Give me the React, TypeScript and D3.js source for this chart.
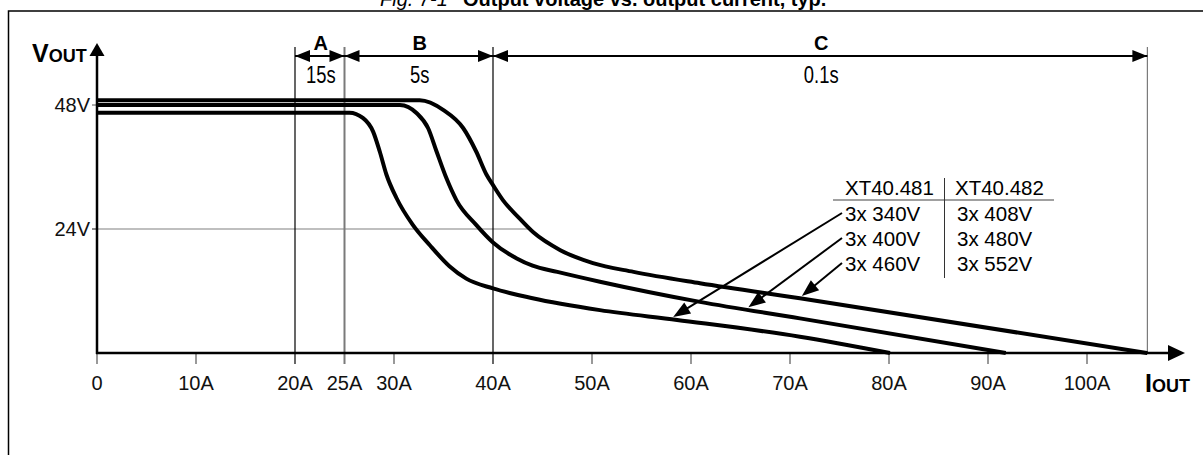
import React from 'react';
import * as d3 from 'd3';

type Pt = [number, number];

const xTicks = [0, 10, 20, 25, 30, 40, 50, 60, 70, 80, 90, 100];
const xTickLabels = ['0', '10A', '20A', '25A', '30A', '40A', '50A', '60A', '70A', '80A', '90A', '100A'];
const yTicks = [48, 24];
const yTickLabels = ['48V', '24V'];

// output current [A], output voltage [V]
const curveTop: Pt[] = [
  [0, 48.9], [32.6, 48.9], [35.0, 47.0], [37.0, 43.5], [38.3, 39.0], [39.35, 34.5], [40.0, 32.5],
  [41.0, 29.6], [42.5, 26.4], [44.1, 23.3], [46.8, 19.9], [50.1, 17.4], [54.2, 15.7], [60.9, 13.5],
  [71.0, 10.6], [106.1, 0],
];
const curveMid: Pt[] = [
  [0, 48.0], [30.6, 48.0], [32.3, 46.4], [33.45, 43.5], [34.3, 39.0], [35.3, 33.8], [36.3, 29.6],
  [38.3, 24.8], [40.0, 21.4], [42.4, 18.3], [44.0, 16.9], [46.5, 15.7], [50.8, 13.8], [60.9, 9.9],
  [71.0, 6.7], [91.8, 0],
];
const curveLow: Pt[] = [
  [0, 46.5], [25.5, 46.5], [26.85, 45.5], [27.9, 42.8], [28.56, 39.0], [29.24, 34.5], [30.25, 30.0],
  [31.9, 24.8], [33.6, 20.9], [35.6, 16.8], [37.3, 14.4], [40.0, 12.5], [44.0, 10.6], [50.8, 8.3],
  [58.6, 6.4], [71.0, 3.15], [80.1, 0],
];

const zoneBounds = [20, 25, 40, 106.1];
const zoneLetters = ['A', 'B', 'C'];
const zoneTimes = ['15s', '5s', '0.1s'];

const tableHeader = ['XT40.481', 'XT40.482'];
const tableCol1 = ['3x 340V', '3x 400V', '3x 460V'];
const tableCol2 = ['3x 408V', '3x 480V', '3x 552V'];
const rowCurves = [curveLow, curveMid, curveTop];
const arrowTargetA = [58.2, 65.8, 71.2];

const FONT = "'Liberation Sans', Arial, Helvetica, sans-serif";

function interp(curve: Pt[], a: number): number {
  for (let i = 1; i < curve.length; i++) {
    if (a <= curve[i][0]) {
      const [x0, y0] = curve[i - 1];
      const [x1, y1] = curve[i];
      return y0 + ((a - x0) / (x1 - x0)) * (y1 - y0);
    }
  }
  return curve[curve.length - 1][1];
}

function arrowHead(tx: number, ty: number, ux: number, uy: number, L: number, W: number): string {
  const nx = -uy, ny = ux;
  const bx = tx - ux * L, by = ty - uy * L;
  return `M${tx},${ty}L${bx + nx * W},${by + ny * W}L${bx - nx * W},${by - ny * W}Z`;
}

export default function App() {
  const W = 1203, H = 455;
  const x = d3.scaleLinear().domain([0, 100]).range([97, 1087]);
  const y = d3.scaleLinear().domain([0, 48]).range([353, 105]);
  const line = d3.line<Pt>().x(d => x(d[0])).y(d => y(d[1])).curve(d3.curveMonotoneX);

  const axisY = y(0);
  const x0 = x(0);
  const dimY = 56;
  const boundTop = 47;

  const tableX1 = 845, tableX2 = 957, divX = 944.5;
  const headerBase = 195;
  const rowBase = [221, 246, 271];
  const leaderStartX = 842;

  return (
    <svg width={W} height={H} style={{ position: 'absolute', left: 0, top: 0, background: '#fff' }}
      fontFamily={FONT}>
      <rect x={0} y={0} width={W} height={H} fill="#fff" />
      {/* title */}
      <text x={380} y={5.5} fontSize={20} fill="#000">
        <tspan fontStyle="italic">Fig. 7-1</tspan>
        <tspan x={463} fontWeight="bold">Output voltage vs. output current, typ.</tspan>
      </text>
      {/* frame */}
      <rect x={8.5} y={11} width={1300} height={600} fill="none" stroke="#000" strokeWidth={1.5} />

      {/* 24V grid line */}
      <line x1={92} x2={528} y1={y(24)} y2={y(24)} stroke="#808080" strokeWidth={1.2} />

      {/* zone boundary lines */}
      {zoneBounds.map((b, i) => {
        const gray = i === 1 || i === 3;
        const bottom = i === 3 ? axisY : 364;
        return (
          <line key={'zb' + i} x1={x(b)} x2={x(b)} y1={boundTop} y2={bottom}
            stroke={gray ? '#7a7a7a' : '#000'} strokeWidth={i === 1 ? 2 : 1.2} />
        );
      })}

      {/* x ticks */}
      {xTicks.map((t, i) => (
        <g key={'xt' + i}>
          {!(t === 20 || t === 25 || t === 40) && (
            <line x1={x(t)} x2={x(t)} y1={axisY} y2={364} stroke="#555" strokeWidth={1.2} />
          )}
          <text x={x(t)} y={390} fontSize={20} textAnchor="middle" fill="#111">{xTickLabels[i]}</text>
        </g>
      ))}

      {/* y tick labels */}
      {yTicks.map((t, i) => (
        <g key={'yt' + i}>
          <line x1={92} x2={x0} y1={y(t)} y2={y(t)} stroke="#555" strokeWidth={1} />
          <text x={90} y={y(t) + 7} fontSize={20} textAnchor="end" fill="#111">{yTickLabels[i]}</text>
        </g>
      ))}

      {/* curves */}
      {[curveTop, curveMid, curveLow].map((c, i) => (
        <path key={'c' + i} d={line(c) || ''} fill="none" stroke="#000" strokeWidth={4} strokeLinejoin="round" />
      ))}

      {/* axes */}
      <line x1={x0} x2={x0} y1={axisY + 1} y2={54} stroke="#000" strokeWidth={2.5} />
      <path d={arrowHead(x0, 43, 0, -1, 13, 7.5)} fill="#000" />
      <line x1={x0 - 1} x2={1170} y1={axisY} y2={axisY} stroke="#000" strokeWidth={2.5} />
      <path d={arrowHead(1185, axisY, 1, 0, 17, 8)} fill="#000" />

      {/* axis titles */}
      <text x={32} y={62} fontWeight="bold" fill="#000">
        <tspan fontSize={25}>V</tspan><tspan fontSize={18}>OUT</tspan>
      </text>
      <text x={1145} y={392} fontWeight="bold" fill="#000">
        <tspan fontSize={25}>I</tspan><tspan fontSize={18}>OUT</tspan>
      </text>

      {/* dimension arrows A, B, C */}
      <line x1={x(zoneBounds[0])} x2={x(zoneBounds[3])} y1={dimY} y2={dimY} stroke="#000" strokeWidth={2} />
      {zoneLetters.map((L, i) => {
        const a = x(zoneBounds[i]);
        const b = x(zoneBounds[i + 1]);
        const mid = (a + b) / 2;
        return (
          <g key={'z' + i}>
            <path d={arrowHead(a, dimY, -1, 0, 15, 6)} fill="#000" />
            <path d={arrowHead(b, dimY, 1, 0, 15, 6)} fill="#000" />
            <text x={mid + 1} y={50} fontSize={20} fontWeight="bold" textAnchor="middle" fill="#000">{L}</text>
            <text transform={`translate(${mid + 1},83) scale(0.8,1)`} x={0} y={0} fontSize={23}
              textAnchor="middle" fill="#000">{zoneTimes[i]}</text>
          </g>
        );
      })}

      {/* table */}
      <text x={tableX1} y={headerBase} fontSize={20.5} fill="#000">{tableHeader[0]}</text>
      <text x={955} y={headerBase} fontSize={20.5} fill="#000">{tableHeader[1]}</text>
      <line x1={833} x2={1054} y1={200} y2={200} stroke="#808080" strokeWidth={1.5} />
      <line x1={divX} x2={divX} y1={178} y2={278} stroke="#333" strokeWidth={1} />
      {tableCol1.map((t, i) => (
        <g key={'r' + i}>
          <text x={tableX1} y={rowBase[i]} fontSize={20.5} fill="#000">{t}</text>
          <text x={tableX2} y={rowBase[i]} fontSize={20.5} fill="#000">{tableCol2[i]}</text>
        </g>
      ))}

      {/* leader arrows */}
      {rowCurves.map((c, i) => {
        const sx = leaderStartX, sy = rowBase[i] - 8;
        const tx = x(arrowTargetA[i]);
        const ty = y(interp(c, arrowTargetA[i])) - 2.5;
        const dx = tx - sx, dy = ty - sy;
        const len = Math.hypot(dx, dy);
        const ux = dx / len, uy = dy / len;
        const L = 17;
        return (
          <g key={'ld' + i}>
            <line x1={sx} y1={sy} x2={tx - ux * (L - 2)} y2={ty - uy * (L - 2)} stroke="#000" strokeWidth={2} />
            <path d={arrowHead(tx, ty, ux, uy, L, 6.5)} fill="#000" />
          </g>
        );
      })}
    </svg>
  );
}
